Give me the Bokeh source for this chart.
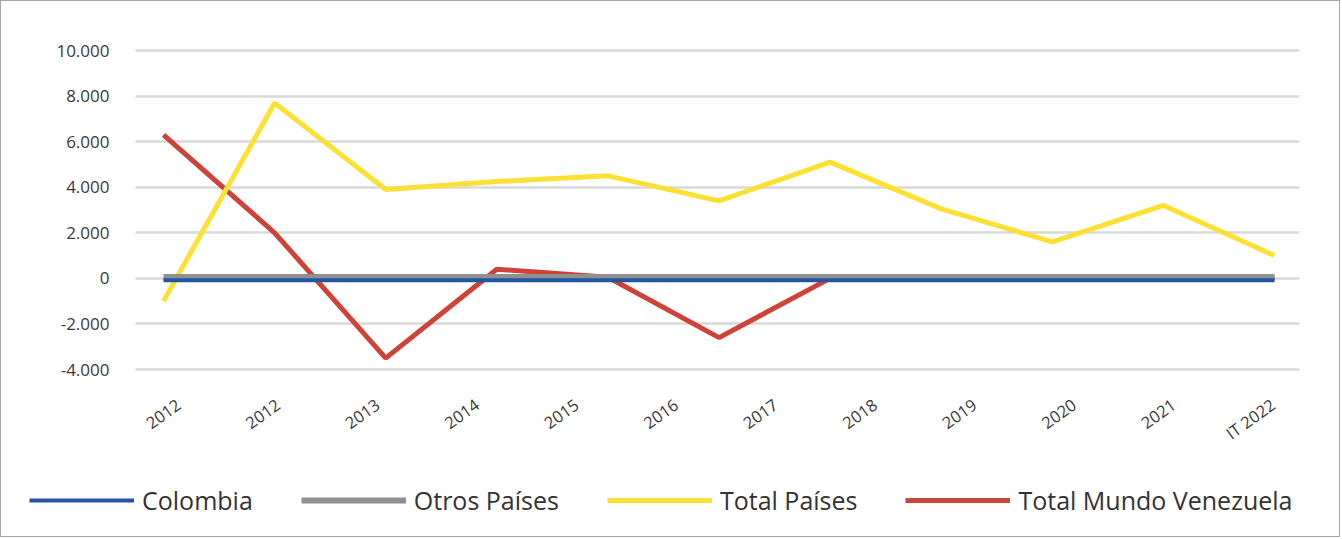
from bokeh.plotting import figure
from bokeh.models import Range1d, FixedTicker, Legend, LegendItem
from bokeh.embed import file_html
from bokeh.resources import INLINE

# ---------------- data ----------------
categories = ["2012", "2012", "2013", "2014", "2015", "2016", "2017",
              "2018", "2019", "2020", "2021", "IT 2022"]
points = [0, 1, 2, 3, 4, 5, 6, 7, 8, 9, 10]
colombia = [-80, -80, -80, -80, -80, -80, -80, -80, -80, -80, -80]
otros_paises = [60, 60, 60, 60, 60, 60, 60, 60, 60, 60, 60]
total_paises = [-1000, 7700, 3900, 4250, 4500, 3400, 5100, 3050, 1600, 3200, 1000]
total_mundo_venezuela = [6300, 2000, -3500, 400, 50, -2600, 0, 0, 0, 0, 0]
y_ticks = [-4000, -2000, 0, 2000, 4000, 6000, 8000, 10000]
y_tick_labels = ["-4.000", "-2.000", "0", "2.000", "4.000", "6.000", "8.000", "10.000"]

FONT = "Open Sans"

# ---------------- layout (pixels inside the canvas) ----------------
W, H = 1340, 537
FX0, FX1 = 1, 1 + W          # frame spans the whole canvas
FY0, FY1 = 1, 1 + H
PLOT_L, PLOT_R = 135, 1299   # visible plot area
PLOT_T, PLOT_B = 50, 369     # y of 10000 and -4000
Y_TOP, Y_BOT = 10000, -4000
TICK0, TICK_STEP = 178, 99.5     # label ticks
DATA0, DATA_STEP = 163, 111.1    # data points


def lin(px, p0, step):
    return (px - p0) / step


upp = (Y_TOP - Y_BOT) / (PLOT_B - PLOT_T)
y_start = Y_BOT - (FY1 - PLOT_B) * upp
y_end = Y_TOP + (PLOT_T - FY0) * upp

p = figure(width=W, height=H, output_backend="svg", toolbar_location=None,
           x_range=Range1d(lin(FX0, TICK0, TICK_STEP), lin(FX1, TICK0, TICK_STEP)),
           y_range=Range1d(y_start, y_end),
           min_border_left=0, min_border_right=0, min_border_top=0,
           min_border_bottom=0)
p.styles = {"border": "1px solid #A6A6A6"}
p.extra_x_ranges = {"data": Range1d(lin(FX0, DATA0, DATA_STEP),
                                    lin(FX1, DATA0, DATA_STEP))}
p.outline_line_color = None
p.background_fill_color = "white"
p.border_fill_color = "white"
p.xgrid.visible = False
p.ygrid.visible = False

# x axis (category labels)
p.xaxis.fixed_location = Y_BOT
p.xaxis.ticker = FixedTicker(ticks=list(range(len(categories))))
p.xaxis.major_label_overrides = {i: c for i, c in enumerate(categories)}
p.xaxis.major_label_orientation = 0.62
p.xaxis.major_label_standoff = 27
p.xaxis.major_tick_line_color = None
p.xaxis.major_label_text_font_size = "16.5px"

# y axis: its ticks run across the plot area and act as gridlines
p.yaxis.fixed_location = lin(PLOT_L, TICK0, TICK_STEP)
p.yaxis.ticker = FixedTicker(ticks=y_ticks)
p.yaxis.major_label_overrides = {t: l for t, l in zip(y_ticks, y_tick_labels)}
p.yaxis.major_label_standoff = 26
p.yaxis.major_tick_out = 0
p.yaxis.major_tick_in = PLOT_R - PLOT_L
p.yaxis.major_tick_line_color = "#D9D9D9"
p.yaxis.major_tick_line_width = 2.5
p.yaxis.major_label_text_font_size = "17px"
p.yaxis.level = "underlay"

for ax in (p.xaxis, p.yaxis):
    ax.axis_line_color = None
    ax.minor_tick_line_color = None
    ax.major_label_text_font = FONT
    ax.major_label_text_color = "#3a3a3a"

# lines
r_ven = p.line(points, total_mundo_venezuela, x_range_name="data",
               line_color="#CE4238", line_width=5)
r_tot = p.line(points, total_paises, x_range_name="data",
               line_color="#FCE034", line_width=5)
r_otr = p.line(points, otros_paises, x_range_name="data",
               line_color="#909094", line_width=6)
r_col = p.line(points, colombia, x_range_name="data",
               line_color="#22579F", line_width=4)

legend = Legend(items=[
    LegendItem(label="Colombia", renderers=[r_col]),
    LegendItem(label="Otros Países", renderers=[r_otr]),
    LegendItem(label="Total Países", renderers=[r_tot]),
    LegendItem(label="Total Mundo Venezuela", renderers=[r_ven]),
], orientation="horizontal", location=(28, 21), glyph_width=105,
    glyph_height=20, label_standoff=8, spacing=48, padding=0, margin=0,
    border_line_alpha=0, background_fill_alpha=0,
    label_text_font=FONT, label_text_font_size="25px",
    label_text_color="#333333")
p.add_layout(legend)

open("out.html", "w").write(file_html(p, INLINE))
